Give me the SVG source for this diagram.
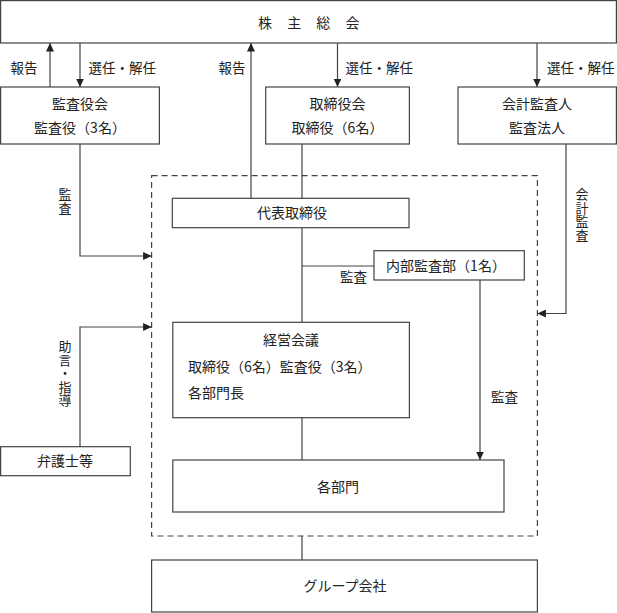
<svg xmlns="http://www.w3.org/2000/svg" width="617" height="613" viewBox="0 0 617 613">
<defs>
<style>
.box{fill:#fff;stroke:#444;stroke-width:1.2}
.dash{fill:none;stroke:#444;stroke-width:1.2;stroke-dasharray:6 4}
.ln{fill:none;stroke:#444;stroke-width:1.2}
.arr{marker-end:url(#ah)}
text{font-family:"Noto Sans CJK JP","Noto Sans CJK SC",sans-serif;font-size:14px;fill:#222}
.c{text-anchor:middle}
.lb{font-size:13.5px}
.vt{font-size:13px;writing-mode:vertical-rl;letter-spacing:0.5px}
</style>
<marker id="ah" markerUnits="userSpaceOnUse" markerWidth="9" markerHeight="8" refX="8.5" refY="4" orient="auto">
<path d="M0,0 L8.5,4 L0,8 z" fill="#222"/>
</marker>
</defs>
<rect width="617" height="613" fill="#fff"/>
<rect class="dash" x="151.6" y="175.7" width="385.8" height="360.3"/>
<g id="connectors">
<line class="ln arr" x1="50" y1="87" x2="50" y2="43"/>
<line class="ln arr" x1="80" y1="43" x2="80" y2="87"/>
<line class="ln arr" x1="251" y1="198" x2="251" y2="43"/>
<line class="ln arr" x1="337.5" y1="43" x2="337.5" y2="87"/>
<line class="ln arr" x1="537" y1="43" x2="537" y2="87"/>
<path class="ln arr" d="M80,144 V256 H151.6"/>
<line class="ln" x1="302" y1="144" x2="302" y2="198"/>
<path class="ln arr" d="M566,144 V313.5 H537.4"/>
<line class="ln" x1="302" y1="228" x2="302" y2="322"/>
<line class="ln" x1="302" y1="266" x2="374" y2="266"/>
<line class="ln arr" x1="480" y1="280" x2="480" y2="460"/>
<line class="ln" x1="302" y1="418" x2="302" y2="460"/>
<line class="ln" x1="302" y1="536" x2="302" y2="560"/>
<path class="ln arr" d="M80,447 V327 H151.6"/>
<text class="lb" x="10.5" y="73">報告</text>
<text class="lb" x="88.5" y="73">選任・解任</text>
<text class="lb" x="218.5" y="73">報告</text>
<text class="lb" x="345.5" y="73">選任・解任</text>
<text class="lb" x="547" y="73">選任・解任</text>
<text class="vt" x="65" y="188">監査</text>
<text class="vt" x="582" y="188">会計監査</text>
<text class="vt" x="65" y="340">助言・指導</text>
<text class="lb c" x="353.5" y="281.5">監査</text>
<text class="lb" x="491" y="402">監査</text>
</g>
<g id="shareholders">
<rect class="box" x="0.6" y="0.6" width="615.8" height="42.4"/>
<text x="258" y="27.5" style="letter-spacing:6px">株 主 総 会</text>
</g>
<g id="kansayakukai">
<rect class="box" x="0.6" y="87" width="158.8" height="57"/>
<text class="c" x="80" y="109">監査役会</text>
<text class="c" x="80" y="133">監査役（3名）</text>
</g>
<g id="torishimariyakukai">
<rect class="box" x="265.7" y="87" width="143.7" height="57"/>
<text class="c" x="337.5" y="109">取締役会</text>
<text class="c" x="337.5" y="133">取締役（6名）</text>
</g>
<g id="kaikei">
<rect class="box" x="458" y="87" width="158.4" height="57"/>
<text class="c" x="537" y="109">会計監査人</text>
<text class="c" x="537" y="133">監査法人</text>
</g>
<g id="daihyo">
<rect class="box" x="172.3" y="198.3" width="236.7" height="29.4"/>
<text class="c" x="292" y="218">代表取締役</text>
</g>
<g id="naibu">
<rect class="box" x="374" y="250.7" width="150.3" height="29.3"/>
<text class="c" x="446" y="271">内部監査部（1名）</text>
</g>
<g id="keiei">
<rect class="box" x="172.8" y="322.3" width="236.6" height="95.4"/>
<text class="c" x="291" y="345">経営会議</text>
<text x="188" y="371.5">取締役（6名）監査役（3名）</text>
<text x="188" y="398">各部門長</text>
</g>
<g id="kakubumon">
<rect class="box" x="172.8" y="460" width="331.2" height="52"/>
<text class="c" x="338" y="491.5">各部門</text>
</g>
<g id="group">
<rect class="box" x="151.6" y="560" width="385.8" height="52"/>
<text class="c" x="345" y="591">グループ会社</text>
</g>
<g id="bengoshi">
<rect class="box" x="0.6" y="446.7" width="129.7" height="29"/>
<text class="c" x="65" y="466">弁護士等</text>
</g>
</svg>
